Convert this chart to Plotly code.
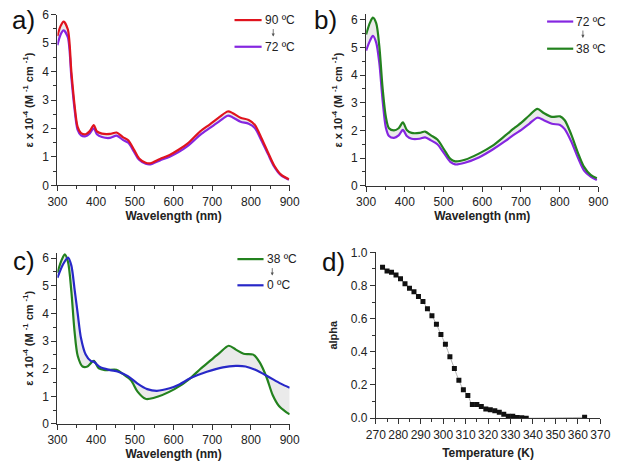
import plotly.graph_objects as go

# ---------------- data ----------------
# panel a
wl_a = [300, 308, 316, 327, 336, 344, 352, 361, 373, 383, 394, 402, 415, 436, 453, 469, 483, 498, 511, 528, 540,
        565, 590, 615, 636, 669, 694, 719, 740, 752, 773, 794, 810, 827, 844, 860, 877, 898]
red_90 = [5.25, 5.6, 5.76, 5.48, 4.0, 2.86, 2.07, 1.84, 1.8, 1.9, 2.12, 1.9, 1.82, 1.81, 1.86, 1.70, 1.59, 1.25, 0.95, 0.80, 0.78,
          0.93, 1.07, 1.27, 1.47, 1.9, 2.15, 2.41, 2.6, 2.55, 2.38, 2.30, 2.13, 1.67, 1.16, 0.70, 0.39, 0.22]
purple_72a = [4.93, 5.3, 5.45, 5.2, 3.8, 2.72, 1.96, 1.76, 1.73, 1.82, 2.01, 1.8, 1.7, 1.67, 1.75, 1.60, 1.50, 1.18, 0.90, 0.76, 0.74,
              0.88, 1.01, 1.19, 1.38, 1.78, 2.02, 2.26, 2.45, 2.40, 2.24, 2.17, 2.02, 1.58, 1.10, 0.66, 0.36, 0.20]

# panel b
wl_b = [300, 310, 317.5, 326, 334, 342.5, 351, 359, 372, 384, 395, 405, 417.5, 438, 452.5, 467.5, 484, 501, 517.5, 530,
        555, 592.5, 626, 659, 684, 701, 722, 742.5, 759, 780, 801, 813, 830, 847, 863, 880, 896]
green_38b = [5.47, 5.9, 6.08, 5.88, 5.06, 3.54, 2.49, 2.08, 2.0, 2.08, 2.29, 2.02, 1.91, 1.91, 1.96, 1.82, 1.67, 1.32, 0.97, 0.88,
             0.94, 1.17, 1.44, 1.81, 2.1, 2.28, 2.55, 2.78, 2.63, 2.49, 2.51, 2.37, 1.85, 1.2, 0.68, 0.39, 0.27]
purple_72b = [4.89, 5.25, 5.42, 5.18, 4.45, 3.1, 2.1, 1.8, 1.73, 1.82, 2.02, 1.8, 1.7, 1.7, 1.75, 1.64, 1.5, 1.18, 0.86, 0.77,
              0.83, 1.03, 1.3, 1.61, 1.87, 2.02, 2.25, 2.46, 2.37, 2.24, 2.2, 2.05, 1.6, 1.02, 0.55, 0.33, 0.21]

# panel c
wl_c_green = [300, 310, 319, 327.5, 336, 344, 352.5, 365, 377.5, 394, 407, 423, 452.5, 469, 490, 507, 527.5, 548,
              602.5, 644, 669, 694, 719, 742.5, 761, 781, 806, 823, 840, 856, 873, 890, 900]
green_38c = [5.47, 5.9, 6.14, 5.85, 4.8, 3.39, 2.46, 2.08, 2.08, 2.28, 2.01, 1.95, 1.96, 1.81, 1.58, 1.17, 0.91, 0.94,
             1.26, 1.66, 1.99, 2.28, 2.57, 2.83, 2.69, 2.54, 2.51, 2.22, 1.7, 1.05, 0.64, 0.44, 0.35]
wl_c_blue = [300, 315, 327.5, 336, 344, 352.5, 361, 373, 386, 394, 411, 436, 457, 482, 507, 532, 557, 590, 615,
             644, 686, 727.5, 761, 786, 811, 844, 877, 900]
blue_0c = [5.29, 5.79, 6.02, 5.73, 4.91, 3.98, 3.1, 2.51, 2.28, 2.25, 2.05, 1.95, 1.89, 1.73, 1.46, 1.26, 1.2, 1.29, 1.43,
           1.66, 1.89, 2.05, 2.1, 2.08, 1.96, 1.72, 1.46, 1.31]

# panel d
temp_K = [273, 275, 277, 279, 281, 283, 285, 287, 289, 291, 293, 295, 297, 299, 301, 303, 305, 307, 309, 311,
          313, 315, 317, 319, 321, 323, 325, 327, 329, 331, 333, 335, 337, 363]
alpha = [0.91, 0.887, 0.88, 0.863, 0.84, 0.81, 0.783, 0.762, 0.734, 0.703, 0.66, 0.617, 0.566, 0.504, 0.445, 0.371,
         0.30, 0.228, 0.172, 0.137, 0.082, 0.082, 0.07, 0.055, 0.05, 0.045, 0.035, 0.023, 0.012, 0.012, 0.004, 0.002,
         0.0, 0.005]

# ---------------- styling ----------------
W, H = 620, 462
RED = "#e0141e"
PURPLE = "#8526e0"
GREEN = "#23821e"
BLUE = "#2828c8"
FILL = "rgba(170,170,170,0.25)"
FONT = "Liberation Sans, Arial, sans-serif"
AX = "#333333"


def px(x):
    return x / W


def py(y):
    return 1 - y / H


fig = go.Figure()


def spec(x, y, color, axis, fill=None):
    fig.add_trace(go.Scatter(x=x, y=y, mode="lines", line=dict(color=color, width=2.2, shape="spline", smoothing=0.8),
                             fill=fill, fillcolor=FILL if fill else None,
                             xaxis="x" + axis, yaxis="y" + axis, showlegend=False, hoverinfo="skip"))


spec(wl_a, purple_72a, PURPLE, "")
spec(wl_a, red_90, RED, "", fill="tonexty")
spec(wl_b, purple_72b, PURPLE, "2")
spec(wl_b, green_38b, GREEN, "2", fill="tonexty")
spec(wl_c_green, green_38c, GREEN, "3")
spec(wl_c_blue, blue_0c, BLUE, "3", fill="tonexty")

fig.add_trace(go.Scatter(x=temp_K, y=alpha, mode="lines", line=dict(color="#a0a0a0", width=0.8, shape="spline"),
                         xaxis="x4", yaxis="y4", showlegend=False, hoverinfo="skip"))
fig.add_trace(go.Scatter(x=temp_K, y=alpha, mode="markers", marker=dict(symbol="square", size=5, color="#111111"),
                         xaxis="x4", yaxis="y4", showlegend=False, hoverinfo="skip"))

ytitle = "<b>ε x 10<sup>-4</sup> (M <sup>-1</sup> cm <sup>-1</sup>)</b>"


def axis_common(**kw):
    d = dict(showline=True, linecolor=AX, linewidth=1, ticks="outside", ticklen=5, tickcolor=AX, tickwidth=1,
             showgrid=False, zeroline=False, mirror=False,
             tickfont=dict(family=FONT, size=12, color="#222"),
             minor=dict(ticks="outside", ticklen=3, tickcolor=AX, showgrid=False),
             fixedrange=True)
    d.update(kw)
    return d


def xspec(domain, anchor, title, rng, dtick, minor, standoff=2):
    a = axis_common(domain=domain, anchor=anchor, range=rng, dtick=dtick,
                    title=dict(text="<b>" + title + "</b>", font=dict(family=FONT, size=12, color="#222"),
                               standoff=standoff))
    a["minor"]["dtick"] = minor
    return a


def yspec(domain, anchor, title, rng, dtick, minor, fmt=None, standoff=6):
    a = axis_common(domain=domain, anchor=anchor, range=rng, dtick=dtick,
                    title=dict(text=title, font=dict(family=FONT, size=11, color="#222"), standoff=standoff))
    a["minor"]["dtick"] = minor
    if fmt:
        a["tickformat"] = fmt
    return a


fig.update_layout(
    width=W, height=H, margin=dict(l=0, r=0, t=0, b=0),
    paper_bgcolor="white", plot_bgcolor="white",
    xaxis=xspec([px(49), px(289)], "y", "Wavelength (nm)", [300, 900], 100, 50),
    yaxis=yspec([py(184), py(8)], "x", ytitle, [0, 6], 1, 0.5),
    xaxis2=xspec([px(368), px(608)], "y2", "Wavelength (nm)", [300, 900], 100, 50),
    yaxis2=yspec([py(184.3), py(7.6)], "x2", ytitle, [0, 6.2], 1, 0.5),
    xaxis3=xspec([px(49), px(289)], "y3", "Wavelength (nm)", [300, 900], 100, 50),
    yaxis3=yspec([py(430), py(253.3)], "x3", ytitle, [0, 6.2], 1, 0.5),
    xaxis4=xspec([px(378), px(610)], "y4", "Temperature (K)", [270, 370], 10, 5, standoff=8),
    yaxis4=yspec([py(424), py(253)], "x4", "<b>alpha</b>", [0, 1.0], 0.2, 0.1, fmt=".1f", standoff=10),
)

# panel labels
for lab, x, y in [("a)", 0, 13), ("b)", 312, 13), ("c)", 1, 262), ("d)", 320, 263)]:
    fig.add_annotation(text=lab, x=px(x), y=py(y), xref="paper", yref="paper", xanchor="left", yanchor="middle",
                       showarrow=False, font=dict(family=FONT, size=26, color="#111"))

# in-plot legends (line, label, arrow, line, label)
legends = [
    (232, 260, 13.5, 41, 272, RED, "90 ºC", PURPLE, "72 ºC"),
    (555, 582, 15, 43, 592, PURPLE, "72 ºC", GREEN, "38 ºC"),
    (235, 262, 260, 287, 271, GREEN, "38 ºC", BLUE, "0 ºC"),
]
for x0, x1, y1, y2, xa, c1, t1, c2, t2 in legends:
    for yy, cc, tt in [(y1, c1, t1), (y2, c2, t2)]:
        fig.add_shape(type="line", xref="paper", yref="paper", x0=px(x0), x1=px(x1), y0=py(yy), y1=py(yy),
                      line=dict(color=cc, width=2.2))
        fig.add_annotation(text=tt, x=px(x1 + 1), y=py(yy), xref="paper", yref="paper", xanchor="left",
                           yanchor="middle", showarrow=False, font=dict(family=FONT, size=12, color="#222"))
    fig.add_annotation(text="", x=px(xa), y=py(y1 + 17), xref="paper", yref="paper", ax=0, ay=-9,
                       showarrow=True, arrowhead=2, arrowsize=0.8, arrowwidth=0.8, arrowcolor="#555")

fig.write_html("out.html")
